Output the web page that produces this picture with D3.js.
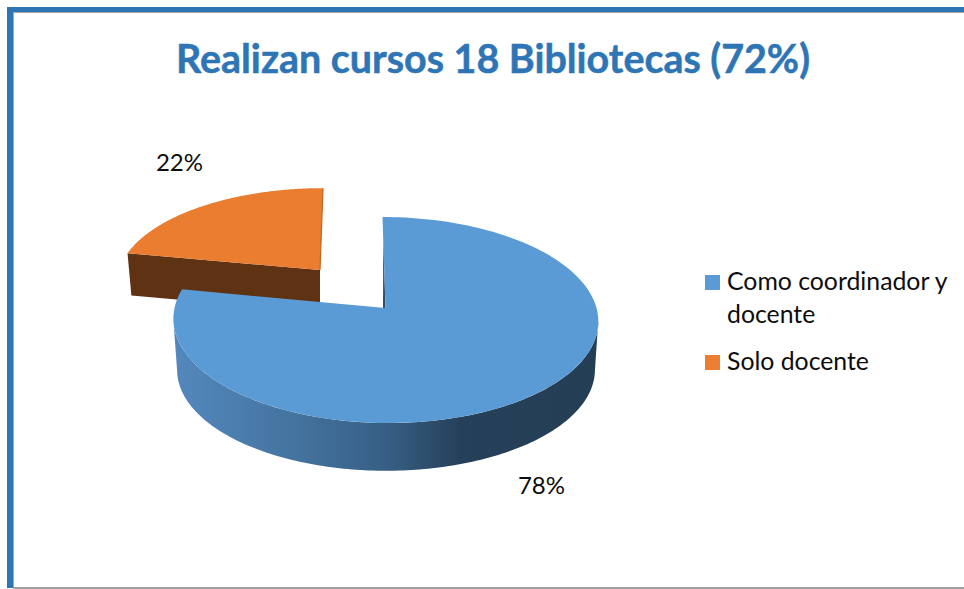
<!DOCTYPE html>
<html>
<head>
<meta charset="utf-8">
<script src="https://cdn.jsdelivr.net/npm/d3@7/dist/d3.min.js"></script>
<style>
html,body{margin:0;padding:0;background:#fff}
svg{display:block}
text{font-family:Lato,"Open Sans",sans-serif}
</style>
</head>
<body>
<div id="chart"></div>
<script>
const titleText = "Realizan cursos 18 Bibliotecas (72%)";
const categories = ["Como coordinador y docente", "Solo docente"];
const legendLines = [["Como coordinador y", "docente"], ["Solo docente"]];
const values = [78, 22];
const colors = ["#5b9bd5", "#ed7d31"];

const W = 964, H = 589;
const svg = d3.select("#chart").append("svg").attr("width", W).attr("height", H);
const defs = svg.append("defs");

// Frame
svg.append("rect").attr("x",13).attr("y",12).attr("width",W-13).attr("height",1).attr("fill","#a6a6a6");
svg.append("rect").attr("x",13).attr("y",12).attr("width",1).attr("height",H-12).attr("fill","#a6a6a6");
svg.append("rect").attr("x",13).attr("y",587).attr("width",W-13).attr("height",2).attr("fill","#a0a0a0");
svg.append("rect").attr("x",7).attr("y",7).attr("width",W-7).attr("height",5).attr("fill","#2e75b6");
svg.append("rect").attr("x",7).attr("y",7).attr("width",6).attr("height",H-8).attr("fill","#2e75b6");

// Title
svg.append("text").attr("x",493).attr("y",73).attr("text-anchor","middle")
  .attr("font-size",39.5).attr("font-weight",700).attr("fill","#2e75b6")
  .attr("stroke","#2e75b6").attr("stroke-width",0.5)
  .attr("textLength",634).attr("lengthAdjust","spacingAndGlyphs").text(titleText);

// Pie angles
const pie = d3.pie().sort(null).value(d => d).startAngle(0).endAngle(2*Math.PI);
const arcs = pie(values);

// Perspective projection of a unit disc lying on the floor
const persp = 0.1166;
function projector(o) {
  const sx = d3.scaleLinear().domain([-1,1]).range([o.x - o.rx, o.x + o.rx]);
  const sy = d3.scaleLinear().domain([-1,1]).range([o.y + o.ry, o.y - o.ry]);
  return (a, r=1) => {
    const X = r*Math.sin(a), Y = r*Math.cos(a), k = 1 + persp*Y;
    return [sx(X/k) + (o.shear||0)*Y, sy(Y/k)];
  };
}
const blueTop = projector({x:385.5, y:308, rx:211, ry:101.6, shear:-3});
const blueBot = projector({x:386, y:358, rx:207.5, ry:99.6});
const orTop   = projector({x:320, y:270, rx:200.8, ry:91.4, shear:3});
const orBot   = projector({x:320, y:312, rx:196.8, ry:89.6, shear:3});

const line = d3.line().curve(d3.curveLinear);
const samples = (a0,a1,n=160) => d3.range(n+1).map(i => a0 + (a1-a0)*i/n);
const sector = (P,a0,a1) => line([P(a0,0), ...samples(a0,a1).map(a => P(a))]) + "Z";

const [bA, oA] = arcs;

// Orange slice: front wall, face and thin right edge
svg.append("path")
  .attr("d", line([orTop(oA.startAngle), orTop(oA.startAngle,0), orBot(oA.startAngle,0), orBot(oA.startAngle)]) + "Z")
  .attr("fill","#5f3214");
svg.append("path").attr("d", sector(orTop, oA.startAngle, oA.endAngle)).attr("fill", "#eb7d30");
svg.append("path").attr("d", line([orTop(oA.endAngle), orTop(oA.endAngle,0)]))
  .attr("stroke","#c4651f").attr("stroke-width",1.2).attr("fill","none");

// Blue slice: curved wall
const grad = defs.append("linearGradient").attr("id","blueSide")
  .attr("gradientUnits","userSpaceOnUse").attr("x1",173).attr("x2",598).attr("y1",0).attr("y2",0);
[[0,"#5488bd"],[0.12,"#4d80b1"],[0.3,"#43729d"],[0.5,"#375f85"],[0.68,"#254059"],[1,"#243e55"]]
  .forEach(s => grad.append("stop").attr("offset",s[0]).attr("stop-color",s[1]));
const rim0 = 97*Math.PI/180, rim1 = 263*Math.PI/180;
svg.append("path")
  .attr("d", line([...samples(rim0,rim1).map(a => blueTop(a)), ...samples(rim1,rim0).map(a => blueBot(a))]) + "Z")
  .attr("fill","url(#blueSide)");

// Thin inner wall along the start edge of the blue slice
const wallTip = blueTop(bA.startAngle,0.75), apex = blueTop(bA.startAngle,0);
svg.append("path")
  .attr("d", line([wallTip, apex, [apex[0]-2.5, apex[1]]]) + "Z")
  .attr("fill","#2c4f70");

// Blue face
svg.append("path").attr("d", sector(blueTop, bA.startAngle, bA.endAngle)).attr("fill", colors[0]);

// Data labels
const textColor = "#0d0d0d";
const labelPos = [[541.5,494],[179.5,171]];
svg.selectAll("text.lab").data(values).enter().append("text").attr("class","lab")
  .attr("x",(d,i)=>labelPos[i][0]).attr("y",(d,i)=>labelPos[i][1])
  .attr("text-anchor","middle").attr("font-size",24).attr("fill",textColor)
  .text(d => d + "%");

// Legend
const legendY = [275, 355];
const legend = svg.selectAll("g.leg").data(categories).enter().append("g").attr("class","leg");
legend.append("rect").attr("x",705).attr("y",(d,i)=>legendY[i]).attr("width",15).attr("height",15)
  .attr("fill",(d,i)=>colors[i]);
legend.each(function(d,i){
  d3.select(this).selectAll("text").data(legendLines[i]).enter().append("text")
    .attr("x",727).attr("y",(t,j)=>legendY[i]+15+j*33)
    .attr("font-size",24.8).attr("fill",textColor).text(t=>t);
});
</script>
</body>
</html>
